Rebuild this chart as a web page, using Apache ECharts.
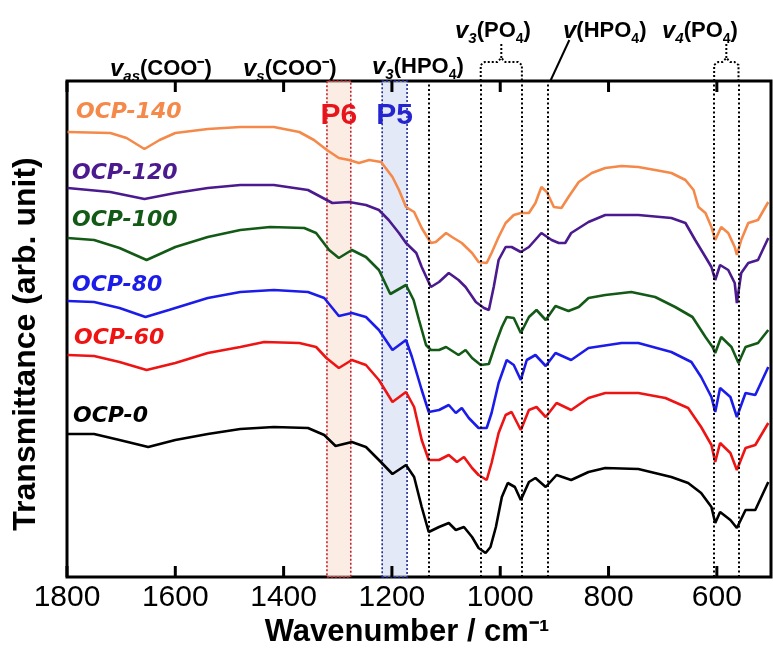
<!DOCTYPE html>
<html><head><meta charset="utf-8">
<script src="https://cdn.jsdelivr.net/npm/echarts@6/dist/echarts.min.js"></script>
<style>html,body{margin:0;padding:0;background:#fff}#c{width:773px;height:651px}</style>
</head><body><div id="c"></div>
<script>
// ---- data (wavenumber in cm-1, transmittance in arbitrary offset units) ----
const seriesNames = ['OCP-140','OCP-120','OCP-100','OCP-80','OCP-60','OCP-0'];
const seriesColors = ['#F5894A','#4A1A8E','#135A17','#1C1CEA','#EE1414','#000000'];

const wn140 = [1799,1720,1690,1657,1629,1600,1540,1480,1418,1371,1344,1320,1298,1279,1261,1242,1220,1199,1187,1174,1159,1145,1128,1119,1100,1089,1071,1052,1040,1025,1016,1003,990,975,962,947,935,924,914,901,887,874,855,831,806,776,745,714,684,658,643,634,621,610,603,592,579,567,563,555,542,524,505];
const t140  = [445,444,439,428,437,444,448,450,450,445,437,427,419,417,414,417,415,400,387,370,365,349,334,335,344,340,334,324,315,314,324,340,354,362,364,364,374,390,385,370,369,380,395,404,409,411,410,407,404,397,387,370,364,350,337,350,344,330,322,337,354,357,375];

const wn120 = [1799,1720,1657,1600,1540,1480,1418,1355,1310,1279,1248,1224,1206,1187,1174,1155,1145,1128,1113,1095,1077,1064,1045,1030,1021,1012,1003,990,979,962,947,924,905,892,880,869,837,806,745,684,658,640,621,610,603,594,579,567,563,555,542,524,505];
const t120  = [389,385,378,384,389,392,392,387,374,375,372,367,357,344,334,324,310,290,295,304,297,290,275,269,267,290,317,330,330,325,330,344,337,334,334,344,355,362,362,359,354,337,320,310,297,312,307,294,274,304,314,317,339];

const wn100 = [1799,1750,1703,1653,1600,1540,1480,1425,1362,1340,1316,1298,1274,1248,1224,1203,1174,1160,1150,1137,1128,1113,1100,1077,1064,1052,1036,1021,1008,997,988,975,962,947,933,916,898,874,855,837,806,758,714,677,645,621,608,603,592,573,560,547,524,505];
const t100  = [339,337,329,317,330,340,347,350,349,344,327,319,327,320,307,283,292,277,257,232,227,227,230,222,227,219,212,213,234,250,260,259,244,260,267,257,271,266,270,279,282,285,280,270,260,240,230,224,240,230,214,230,234,247];

const wn80 = [1799,1750,1703,1655,1612,1540,1480,1418,1355,1325,1298,1274,1248,1224,1199,1174,1163,1145,1132,1113,1095,1082,1071,1058,1040,1025,1016,1003,988,975,962,951,935,916,898,869,837,776,745,684,647,629,610,603,594,575,563,547,529,505];
const t80  = [276,275,269,260,267,279,285,287,285,279,261,264,260,247,227,237,220,187,165,167,172,164,169,159,149,149,164,194,217,212,197,217,222,211,224,217,229,234,234,225,215,200,180,165,189,180,160,184,182,210];

const wn60 = [1799,1750,1703,1653,1600,1540,1480,1436,1371,1340,1321,1298,1274,1248,1224,1199,1174,1159,1145,1132,1113,1095,1080,1067,1052,1040,1025,1016,1003,990,979,962,947,933,916,896,869,837,806,745,695,653,629,610,603,594,575,563,547,529,505];
const t60  = [222,221,215,207,214,224,230,235,234,230,219,209,217,212,197,175,185,170,137,117,117,122,115,120,109,102,97,114,144,162,165,147,167,170,160,174,167,179,184,184,179,169,150,132,115,134,124,107,129,132,154];

const wn0 = [1799,1750,1703,1650,1600,1540,1480,1418,1355,1325,1304,1274,1248,1224,1199,1174,1159,1145,1132,1113,1095,1082,1067,1052,1040,1027,1018,1008,997,986,973,962,947,935,916,896,869,837,806,745,684,653,629,610,603,594,575,563,547,529,505];
const t0  = [143,143,137,130,137,143,148,150,149,142,131,135,130,117,103,112,100,70,45,50,54,47,50,40,29,24,30,50,80,94,90,77,95,99,90,102,97,105,109,108,100,94,84,70,54,65,57,49,67,67,95];

const xTicks = [1800,1600,1400,1200,1000,800,600];
const peakLines = [1132,1036,960,913,605,560];
const bandP6 = [1320,1276];
const bandP5 = [1218,1172];

// ----------------------------------------------------------------------------
const wnList = [wn140,wn120,wn100,wn80,wn60,wn0];
const tList = [t140,t120,t100,t80,t60,t0];
const yMin = 0, yMax = 496;
const chart = echarts.init(document.getElementById('c'), null, {renderer:'canvas'});
const F = '"Liberation Sans", Arial, sans-serif';

const lineSeries = seriesNames.map((n,i)=>({
  name:n, type:'line', showSymbol:false, symbol:'none', smooth:false,
  lineStyle:{color:seriesColors[i], width:2.6}, z:3,
  data: wnList[i].map((w,j)=>[w,tList[i][j]])
}));

const markerSeries = {
  type:'line', data:[], z:1, silent:true,
  markArea:{silent:true, data:[
    [{xAxis:bandP6[0], itemStyle:{color:'rgba(250,222,205,0.55)', borderColor:'#C8202A', borderWidth:1.6, borderType:[2,2]}},{xAxis:bandP6[1]}],
    [{xAxis:bandP5[0], itemStyle:{color:'rgba(205,215,240,0.55)', borderColor:'#1F2A9A', borderWidth:1.6, borderType:[2,2]}},{xAxis:bandP5[1]}]
  ]},
  markLine:{silent:true, symbol:'none', label:{show:false},
    lineStyle:{color:'#000', width:2, type:[2,2.5]},
    data: peakLines.map(v=>({xAxis:v}))}
};

chart.setOption({
  animation:false,
  grid:{left:67, right:2, top:81, bottom:74, show:true, borderColor:'#000', borderWidth:3, backgroundColor:'transparent'},
  xAxis:{type:'value', inverse:true, min:500, max:1800, splitLine:{show:false},
    axisLine:{show:false}, axisTick:{show:false},
    axisLabel:{show:true, customValues:xTicks, formatter:(v)=>String(v), fontFamily:F, fontSize:30, color:'#000', margin:6}},
  yAxis:{type:'value', min:yMin, max:yMax, axisLine:{show:false}, axisTick:{show:false}, axisLabel:{show:false}, splitLine:{show:false}},
  series:[markerSeries].concat(lineSeries)
});

// annotations
const vRich = {
  v:{fontFamily:F, fontSize:24, fontWeight:'bold', fontStyle:'italic', color:'#000', lineHeight:30, verticalAlign:'middle'},
  s:{fontFamily:F, fontSize:15, fontWeight:'bold', fontStyle:'italic', color:'#000', lineHeight:15, verticalAlign:'bottom'},
  t:{fontFamily:F, fontSize:22, fontWeight:'bold', color:'#000', lineHeight:30, verticalAlign:'middle'},
  n:{fontFamily:F, fontSize:14, fontWeight:'bold', color:'#000', lineHeight:14, verticalAlign:'bottom'}
};
function annot(x,y,txt){return {type:'text', x:x, y:y, z:10, style:{text:txt, rich:vRich, verticalAlign:'middle', align:'left'}};}
function px(v){return chart.convertToPixel({xAxisIndex:0}, v);}
const gridRect = chart.getModel().getComponent('grid',0).coordinateSystem.getRect();
const plotTop = gridRect.y, plotBottom = gridRect.y + gridRect.height;
const L1=px(peakLines[1]), R1=px(peakLines[2]), M1=(L1+R1)/2;
const L2=px(peakLines[4]), R2=px(peakLines[5]), M2=(L2+R2)/2;
const H=px(peakLines[3]);
const dotted = {stroke:'#000', lineWidth:2, lineDash:[2,2], fill:null};
function brace(L,R,M){
  return [
    {type:'polyline', z:10, shape:{points:[[L,plotTop],[L,65],[L+4,62],[M-4,62],[M,58],[M+4,62],[R-4,62],[R,65],[R,plotTop]]}, style:dotted},
    {type:'polyline', z:10, shape:{points:[[M,58],[M,42]]}, style:dotted}
  ];
}
const tickEls = [];
xTicks.forEach(v=>{
  const x = px(v);
  tickEls.push({type:'rect', zlevel:1, z:100, shape:{x:x-1.5, y:plotBottom-11, width:3, height:11}, style:{fill:'#000'}});
  tickEls.push({type:'rect', zlevel:1, z:100, shape:{x:x-1.5, y:plotTop, width:3, height:11}, style:{fill:'#000'}});
});
const labelStyle = (c)=>({fontFamily:'"DejaVu Sans", sans-serif', fontSize:22, fontWeight:'bold', fontStyle:'italic', fill:c, verticalAlign:'middle', align:'left'});
const labelPos = [[76,112],[72,173],[72,220],[72,285],[74,338],[73,416]];

const graphics = [
  annot(110,69,'{v|v}{s|as}{t|(COO⁻)}'),
  annot(243,69,'{v|v}{s|s}{t|(COO⁻)}'),
  annot(372,67,'{v|v}{s|3}{t|(HPO}{n|4}{t|)}'),
  annot(455,31,'{v|v}{s|3}{t|(PO}{n|4}{t|)}'),
  annot(563,31,'{v|v}{t|(HPO}{n|4}{t|)}'),
  annot(662,31,'{v|v}{s|4}{t|(PO}{n|4}{t|)}'),
  {type:'polyline', z:10, shape:{points:[[H+3,plotTop],[H+22,40]]}, style:{stroke:'#000', lineWidth:2, fill:null}},
  {type:'text', x:(px(bandP6[0])+px(bandP6[1]))/2, y:116, z:10, style:{text:'P6', fontFamily:F, fontSize:30, fontWeight:'bold', fill:'#E8141C', align:'center', verticalAlign:'middle'}},
  {type:'text', x:(px(bandP5[0])+px(bandP5[1]))/2, y:116, z:10, style:{text:'P5', fontFamily:F, fontSize:30, fontWeight:'bold', fill:'#2525D0', align:'center', verticalAlign:'middle'}},
  {type:'text', x:407, y:632, z:10, style:{text:'Wavenumber / cm⁻¹', fontFamily:F, fontSize:31, fontWeight:'bold', fill:'#000', align:'center', verticalAlign:'middle'}},
  {type:'text', x:26, y:344, rotation:Math.PI/2, z:10, style:{text:'Transmittance (arb. unit)', fontFamily:F, fontSize:32, fontWeight:'bold', fill:'#000', align:'center', verticalAlign:'middle'}}
].concat(brace(L1,R1,M1), brace(L2,R2,M2), tickEls,
  seriesNames.map((n,i)=>({type:'text', x:labelPos[i][0], y:labelPos[i][1], z:10, style:Object.assign({text:n}, labelStyle(seriesColors[i]))})));

chart.setOption({graphic:graphics});
</script>
</body></html>
